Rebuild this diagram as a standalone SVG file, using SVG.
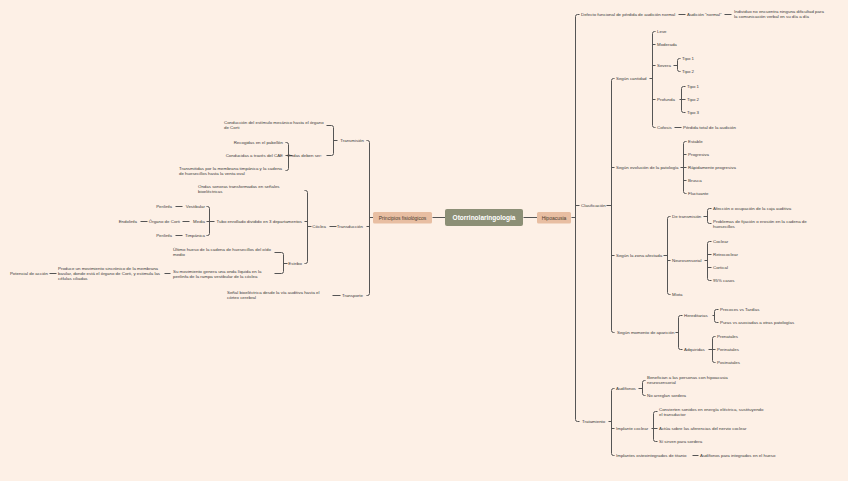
<svg xmlns="http://www.w3.org/2000/svg" width="848" height="481" viewBox="0 0 848 481">
<style>
.bg{fill:#fdf0e6}
.ln{fill:none;stroke:#555555;stroke-width:1;stroke-linecap:butt}
text{font-family:"Liberation Sans",Arial,sans-serif;font-size:4.4px;fill:#3a3a3a}
.e{text-anchor:end}
.main{font-size:6.5px;font-weight:bold;fill:#ffffff;text-anchor:middle}
.sub{font-size:5px;fill:#4a3b2e;text-anchor:middle}
.cbox{fill:#8c8f76}
.tbox{fill:#e8bea2}
</style>
<rect class="bg" x="0" y="0" width="848" height="481"/>
<g id="connectors" transform="translate(0.5,0.5)">
<path class="ln" d="M432 217 H445 M523 217 H537"/>
<path class="ln" d="M579 14 H577 Q575 14 575 16 V419 Q575 421 577 421 H579 M575 205 H579 M571 217 H575"/>
<path class="ln" d="M678 14 H685 M724 14 H731"/>
<path class="ln" d="M614 78 H613 Q611 78 611 80 V330 Q611 332 613 332 H614 M611 167 H614 M611 255 H614 M606 205 H611"/>
<path class="ln" d="M655 31 H654 Q652 31 652 33 V125 Q652 127 654 127 H655 M652 44 H655 M652 65 H655 M652 99 H655 M649 78 H652"/>
<path class="ln" d="M680 58 H679 Q677 58 677 60 V69 Q677 71 679 71 H680 M673 65 H677"/>
<path class="ln" d="M685 86 H683 Q681 86 681 88 V110 Q681 112 683 112 H685 M681 99 H685 M679 99 H681"/>
<path class="ln" d="M674 127 H681"/>
<path class="ln" d="M686 141 H685 Q683 141 683 143 V191 Q683 193 685 193 H686 M683 154 H686 M683 167 H686 M683 180 H686 M680 167 H683"/>
<path class="ln" d="M670 216 H669 Q667 216 667 218 V292 Q667 294 669 294 H670 M667 260 H670 M663 255 H667"/>
<path class="ln" d="M711 208 H709 Q707 208 707 210 V221 Q707 223 709 223 H711 M703 216 H707"/>
<path class="ln" d="M711 241 H709 Q707 241 707 243 V278 Q707 280 709 280 H711 M707 254 H711 M707 267 H711 M704 260 H707"/>
<path class="ln" d="M682 315 H680 Q678 315 678 317 V347 Q678 349 680 349 H682 M675 332 H678"/>
<path class="ln" d="M718 309 H716 Q714 309 714 311 V320 Q714 322 716 322 H718 M712 315 H714"/>
<path class="ln" d="M715 336 H714 Q712 336 712 338 V360 Q712 362 714 362 H715 M712 349 H715 M708 349 H712"/>
<path class="ln" d="M614 388 H613 Q611 388 611 390 V453 Q611 455 613 455 H614 M611 428 H614 M608 421 H611"/>
<path class="ln" d="M645 380 H644 Q642 380 642 382 V393 Q642 395 644 395 H645 M638 388 H642"/>
<path class="ln" d="M657 411 H655 Q653 411 653 413 V439 Q653 441 655 441 H657 M653 428 H657 M651 428 H653"/>
<path class="ln" d="M692 455 H698"/>
<path class="ln" d="M366 140 H367 Q369 140 369 142 V293 Q369 295 367 295 H366 M369 226 H366 M373 217 H369"/>
<path class="ln" d="M326 125 H331 Q333 125 333 127 V153 Q333 155 331 155 H326 M337 140 H333"/>
<path class="ln" d="M285 142 H286 Q288 142 288 144 V168 Q288 170 286 170 H285 M288 155 H285 M292 155 H288"/>
<path class="ln" d="M329 226 H336"/>
<path class="ln" d="M304 190 H305 Q307 190 307 192 V261 Q307 263 305 263 H304 M307 221 H304 M311 226 H307"/>
<path class="ln" d="M206 206 H207 Q209 206 209 208 V233 Q209 235 207 235 H206 M209 221 H206 M214 221 H209"/>
<path class="ln" d="M175 206 H182 M182 221 H189 M140 221 H147 M175 235 H182"/>
<path class="ln" d="M274 252 H281 Q283 252 283 254 V271 Q283 273 281 273 H274 M287 263 H283"/>
<path class="ln" d="M164 273 H170 M49 273 H56"/>
<path class="ln" d="M332 295 H340"/>
</g>
<g id="n-center"><rect class="cbox" x="445" y="209" width="78" height="17" rx="2"/><text class="main" x="484" y="220.3">Otorrinolaringología</text></g>
<g id="n-principios"><rect class="tbox" x="373" y="212" width="59" height="11.5" rx="1.5"/><text class="sub" x="402.5" y="219.6">Principios fisiológicos</text></g>
<g id="n-hipoacusia"><rect class="tbox" x="537" y="212" width="34" height="11.5" rx="1.5"/><text class="sub" x="554" y="219.6">Hipoacusia</text></g>
<g id="right">
<g id="n-defecto"><text x="581" y="16">Defecto funcional de pérdida de audición normal</text></g>
<g id="n-audicion"><text x="687" y="16">Audición "normal"</text></g>
<g id="n-individuo"><text x="734" y="13">Individuo no encuentra ninguna dificultad para</text><text x="734" y="18.2">la comunicación verbal en su día a día</text></g>
<g id="n-clasif"><text x="581" y="207">Clasificación</text></g>
<g id="n-cantidad"><text x="616" y="80">Según cantidad</text></g>
<g id="n-leve"><text x="657" y="33">Leve</text></g>
<g id="n-moderada"><text x="657" y="46">Moderada</text></g>
<g id="n-severa"><text x="657" y="67">Severa</text></g>
<g id="n-s1"><text x="682" y="60">Tipo 1</text></g>
<g id="n-s2"><text x="682" y="73">Tipo 2</text></g>
<g id="n-profunda"><text x="657" y="101">Profunda</text></g>
<g id="n-p1"><text x="687" y="88">Tipo 1</text></g>
<g id="n-p2"><text x="687" y="101">Tipo 2</text></g>
<g id="n-p3"><text x="687" y="114">Tipo 3</text></g>
<g id="n-cofosis"><text x="657" y="129">Cofosis</text></g>
<g id="n-perdida"><text x="683" y="129">Pérdida total de la audición</text></g>
<g id="n-evolucion"><text x="616" y="169">Según evolución de la patología</text></g>
<g id="n-estable"><text x="688" y="143">Estable</text></g>
<g id="n-progresiva"><text x="688" y="156">Progresiva</text></g>
<g id="n-rapida"><text x="688" y="169">Rápidamente progresiva</text></g>
<g id="n-brusca"><text x="688" y="182">Brusca</text></g>
<g id="n-fluctuante"><text x="688" y="195">Fluctuante</text></g>
<g id="n-zona"><text x="616" y="257">Según la zona afectada</text></g>
<g id="n-detrans"><text x="672" y="218">De transmisión</text></g>
<g id="n-afeccion"><text x="713" y="210">Afección o ocupación de la caja auditiva</text></g>
<g id="n-problemas"><text x="713" y="223">Problemas de fijación o erosión en la cadena de</text><text x="713" y="228.2">huesecillos</text></g>
<g id="n-neuro"><text x="672" y="262">Neurosensorial</text></g>
<g id="n-coclear"><text x="713" y="243">Coclear</text></g>
<g id="n-retro"><text x="713" y="256">Retrococlear</text></g>
<g id="n-cortical"><text x="713" y="269">Cortical</text></g>
<g id="n-95"><text x="713" y="282">95% casos</text></g>
<g id="n-mixta"><text x="672" y="296">Mixta</text></g>
<g id="n-momento"><text x="617" y="334">Según momento de aparición</text></g>
<g id="n-hered"><text x="684" y="317">Hereditarias</text></g>
<g id="n-precoces"><text x="720" y="311">Precoces vs Tardías</text></g>
<g id="n-puras"><text x="720" y="324">Puras vs asociadas a otras patologías</text></g>
<g id="n-adq"><text x="684" y="351">Adquiridas</text></g>
<g id="n-pre"><text x="717" y="338">Prenatales</text></g>
<g id="n-peri"><text x="717" y="351">Perinatales</text></g>
<g id="n-post"><text x="717" y="364">Postnatales</text></g>
<g id="n-trat"><text x="582" y="423">Tratamiento</text></g>
<g id="n-audifonos"><text x="616" y="390">Audífonos</text></g>
<g id="n-benefician"><text x="647" y="379">Benefician a las personas con hipoacusia</text><text x="647" y="384.2">neurosensorial</text></g>
<g id="n-noarreglan"><text x="647" y="397">No arreglan sordera</text></g>
<g id="n-implante"><text x="616" y="430">Implante coclear</text></g>
<g id="n-convierten"><text x="659" y="411">Convierten sonidos en energía eléctrica, sustituyendo</text><text x="659" y="416.2">el transductor</text></g>
<g id="n-actua"><text x="659" y="430">Actúa sobre las aferencias del nervio coclear</text></g>
<g id="n-sirven"><text x="659" y="443">Sí sirven para sordera</text></g>
<g id="n-osteo"><text x="616" y="457">Implantes osteointegrados de titanio</text></g>
<g id="n-aud-hueso"><text x="700" y="457">Audífonos para integrados en el hueso</text></g>
</g>
<g id="left">
<g id="n-transmision"><text class="e" x="364" y="142">Transmisión</text></g>
<g id="n-conduccion"><text x="224" y="124">Conducción del estímulo mecánico hasta el órgano</text><text x="224" y="129.2">de Corti</text></g>
<g id="n-ondasdeben"><text class="e" x="322" y="157">Ondas deben ser:</text></g>
<g id="n-recogidas"><text class="e" x="283" y="144">Recogidas en el pabellón</text></g>
<g id="n-conducidas"><text class="e" x="283" y="157">Conducidas a través del CAE</text></g>
<g id="n-transmitidas"><text x="179" y="170">Transmitidas por la membrana timpánica y la cadena</text><text x="179" y="175.2">de huesecillos hasta la venta oval</text></g>
<g id="n-transduccion"><text class="e" x="363" y="228">Transducción</text></g>
<g id="n-coclea"><text class="e" x="326" y="228">Cóclea</text></g>
<g id="n-ondassonoras"><text x="198" y="188">Ondas sonoras transformadas en señales</text><text x="198" y="193.2">bioeléctricas</text></g>
<g id="n-tubo"><text class="e" x="302" y="223">Tubo enrollado dividido en 3 departamentos</text></g>
<g id="n-vestibular"><text class="e" x="205" y="208">Vestibular</text></g>
<g id="n-peri1"><text class="e" x="172" y="208">Perilinfa</text></g>
<g id="n-media"><text class="e" x="205" y="223">Media</text></g>
<g id="n-organo"><text class="e" x="180" y="223">Órgano de Corti</text></g>
<g id="n-endolinfa"><text class="e" x="137" y="223">Endolinfa</text></g>
<g id="n-timpanica"><text class="e" x="205" y="237">Timpánica</text></g>
<g id="n-peri2"><text class="e" x="172" y="237">Perilinfa</text></g>
<g id="n-estribo"><text class="e" x="302" y="265">Estribo</text></g>
<g id="n-ultimo"><text x="173" y="251">Último hueso de la cadena de huesecillos del oído</text><text x="173" y="256.2">medio</text></g>
<g id="n-sumov"><text x="173" y="273">Su movimiento genera una onda líquida en la</text><text x="173" y="278.2">perilinfa de la rampa vestibular de la cóclea</text></g>
<g id="n-produce"><text x="58" y="270">Produce un movimiento sincrónico de la membrana</text><text x="58" y="275.2">basilar, donde está el órgano de Corti, y estimula las</text><text x="58" y="280.4">células ciliadas</text></g>
<g id="n-potencial"><text class="e" x="48" y="275">Potencial de acción</text></g>
<g id="n-transporte"><text class="e" x="363" y="297">Transporte</text></g>
<g id="n-senal"><text x="227" y="294">Señal bioeléctrica desde la vía auditiva hasta el</text><text x="227" y="299.2">córtex cerebral</text></g>
</g>
</svg>
